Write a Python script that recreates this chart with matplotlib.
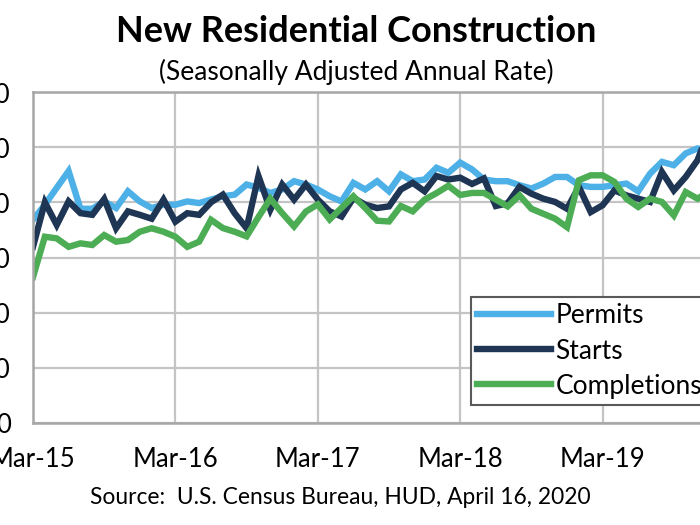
import numpy as np
import matplotlib.pyplot as plt

# monthly SAAR, thousands of units, Mar 2015 .. Mar 2020
permits = [1105, 1187, 1279, 1370, 1165, 1165, 1205, 1169, 1260, 1205,
           1169, 1187, 1187, 1205, 1196, 1215, 1233, 1242, 1297, 1279,
           1251, 1270, 1315, 1297, 1270, 1233, 1205, 1306, 1270, 1315,
           1260, 1352, 1315, 1324, 1388, 1361, 1416, 1379, 1324, 1315,
           1315, 1293, 1275, 1302, 1338, 1338, 1293, 1284, 1284, 1293,
           1302, 1260, 1356, 1420, 1402, 1466, 1493, 1480, 1550, 1460, 1350]
starts = [958, 1200, 1077, 1205, 1141, 1132, 1218, 1059, 1151, 1132,
          1111, 1215, 1095, 1141, 1132, 1200, 1242, 1140, 1059, 1343,
          1160, 1297, 1215, 1297, 1215, 1151, 1123, 1224, 1187, 1169,
          1178, 1270, 1306, 1260, 1343, 1324, 1334, 1300, 1330, 1180,
          1195, 1284, 1247, 1220, 1202, 1165, 1284, 1147, 1184, 1265,
          1238, 1220, 1202, 1365, 1265, 1338, 1429, 1600, 1610, 1560, 1220]
completions = [794, 1013, 1004, 958, 977, 968, 1022, 986, 995, 1040,
               1059, 1040, 1013, 958, 986, 1105, 1060, 1040, 1015, 1120,
               1220, 1141, 1069, 1150, 1189, 1107, 1170, 1233, 1169, 1100,
               1096, 1180, 1151, 1215, 1250, 1290, 1240, 1251, 1251, 1215,
               1178, 1238, 1165, 1138, 1111, 1065, 1320, 1347, 1347, 1311,
               1220, 1175, 1220, 1202, 1129, 1256, 1220, 1260, 1300, 1280, 1290]
tick_labels = ['Mar-15', 'Mar-16', 'Mar-17', 'Mar-18', 'Mar-19', 'Mar-20']
y_ticks = [0, 300, 600, 900, 1200, 1500, 1800]

plt.rcParams['font.family'] = ['Lato', 'DejaVu Sans']

months = np.arange(len(permits))

fig = plt.figure(figsize=(7, 5.25), dpi=100)
ax = fig.add_axes([33/700, 1 - 423/525, 712/700, 331/525])

ax.plot(months, permits, color='#4DB0E6', lw=4.6, label='Permits', solid_joinstyle='miter')
ax.plot(months, starts, color='#1E3553', lw=4.6, label='Starts', solid_joinstyle='miter')
ax.plot(months, completions, color='#4CAD55', lw=4.6, label='Completions', solid_joinstyle='miter')

ax.set_xlim(0, 60)
ax.set_ylim(0, 1800)
ax.set_xticks(np.arange(0, 61, 12))
ax.set_xticklabels(tick_labels)
ax.set_yticks(y_ticks)
ax.set_yticklabels(['{:,}'.format(v) for v in y_ticks])
ax.tick_params(axis='x', length=0, pad=17, labelsize=18.5)
ax.tick_params(axis='y', length=0, pad=16, labelsize=18.5)
ax.grid(True, color='#C4C4C4', lw=1.6)
ax.set_axisbelow(True)
for s in ax.spines.values():
    s.set_color('#A6A6A6')
    s.set_linewidth(1.8)

leg = ax.legend(loc='lower left', bbox_to_anchor=(0.615, 0.054), borderaxespad=0,
                fontsize=19, handlelength=2.8, handletextpad=0.15, labelspacing=0.38,
                borderpad=0.25, fancybox=False, framealpha=1)
leg.get_frame().set_edgecolor('#595959')
leg.get_frame().set_linewidth(1.5)

fig.text(356/700, 1 - 31/525, 'New Residential Construction', ha='center', va='center',
         fontsize=26, fontweight='bold')
fig.text(356/700, 1 - 72/525, '(Seasonally Adjusted Annual Rate)', ha='center', va='center',
         fontsize=19)
fig.text(340/700, 1 - 497/525, 'Source:  U.S. Census Bureau, HUD, April 16, 2020', ha='center',
         va='center', fontsize=16.4)

fig.savefig('out.png', dpi=100)
